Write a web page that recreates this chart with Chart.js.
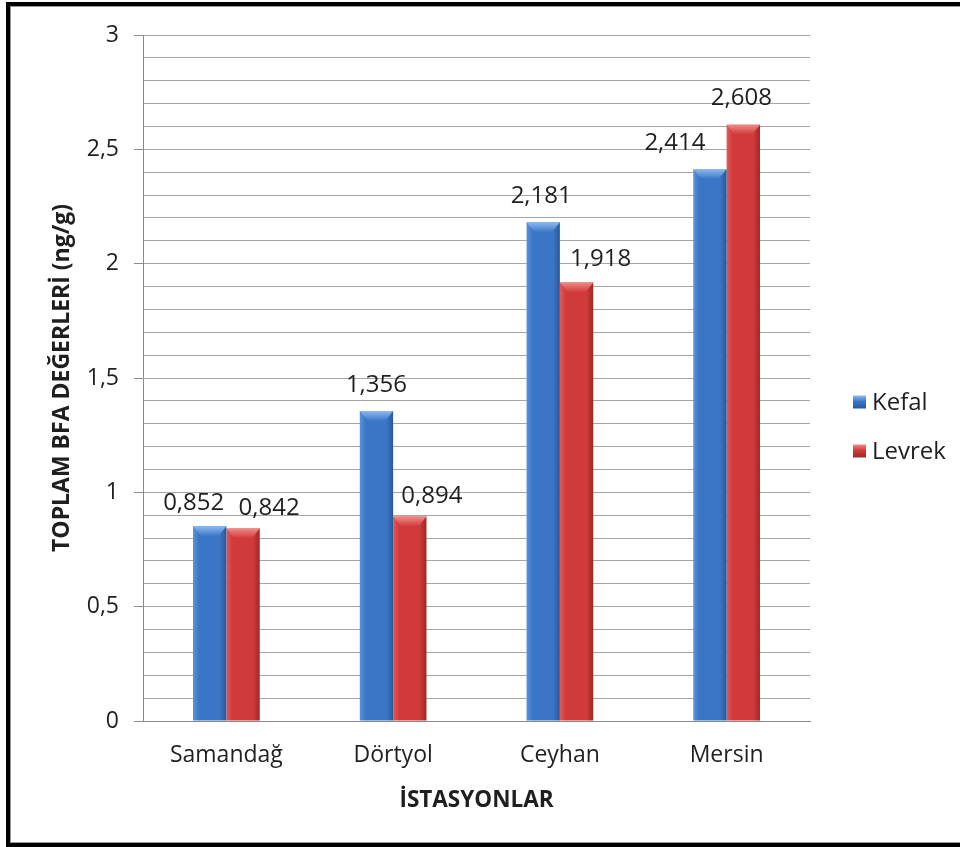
<!DOCTYPE html>
<html>
<head>
<meta charset="utf-8">
<title>Toplam BFA Değerleri</title>
<script src="https://cdn.jsdelivr.net/npm/chart.js@4.4.1/dist/chart.umd.min.js"></script>
<style>
  html, body { margin: 0; padding: 0; background: #fff; overflow: hidden; }
  #wrap { position: relative; width: 960px; height: 847px; }
  #chart { position: absolute; left: 0; top: 0; }
  #frame {
    position: absolute; left: 6px; top: 2px; width: 1000px; height: 837px;
    border: 4px solid #000; border-right: none; pointer-events: none;
  }
  #frame::after {
    content: ''; position: absolute; left: 0; top: 0; right: 0; bottom: 0;
    border: 1px solid #9a9a9a; border-right: none;
  }
</style>
</head>
<body>
<div id="wrap">
  <canvas id="chart" width="960" height="847"></canvas>
  <div id="frame"></div>
</div>
<script>
// Stations and total BFA values (ng/g) for the two fish species
const categories = ['Samandağ', 'Dörtyol', 'Ceyhan', 'Mersin'];
const seriesNames = ['Kefal', 'Levrek'];
const kefalValues = [0.852, 1.356, 2.181, 2.414];
const levrekValues = [0.842, 0.894, 1.918, 2.608];
const yMajorTicks = [0, 0.5, 1, 1.5, 2, 2.5, 3];
const yTitle = 'TOPLAM BFA DEĞERLERİ (ng/g)';
const xTitle = 'İSTASYONLAR';

// Nudges (px) for value labels that sit beside their bars
const labelNudge = [
  [[-16, 0], [0, -3], [-2, -3], [-35, -3]],
  [[26, 3], [22, 3], [24, 0], [-2, -3]]
];

const FONT = '"Open Sans", "Noto Sans", sans-serif';
const TEXT = '#1f1f1f';

// Shading for the bevelled bars: [left light, body, right dark, top bevel]
const shades = [
  ['#5a93dc', '#3b76c6', '#2a5898', '#8dbbf0'],
  ['#e25a59', '#d03a3a', '#9e2727', '#f08a88']
];

const fmt = v => String(+v.toFixed(3)).replace('.', ',');
const isMajor = v => Math.abs(v * 2 - Math.round(v * 2)) < 1e-6;

const bevelPlugin = {
  id: 'bevel',
  beforeDatasetsDraw(chart) {
    const ctx = chart.ctx;
    chart.data.datasets.forEach((ds, di) => {
      const s = shades[di];
      chart.getDatasetMeta(di).data.forEach(el => {
        const l = el.x - el.width / 2, r = el.x + el.width / 2;
        const g = ctx.createLinearGradient(l, 0, r, 0);
        g.addColorStop(0, s[0]);
        g.addColorStop(0.18, s[1]);
        g.addColorStop(0.8, s[1]);
        g.addColorStop(1, s[2]);
        el.options.backgroundColor = g;
      });
    });
  },
  afterDatasetsDraw(chart) {
    const ctx = chart.ctx;
    ctx.save();
    chart.data.datasets.forEach((ds, di) => {
      const s = shades[di];
      chart.getDatasetMeta(di).data.forEach(el => {
        const l = el.x - el.width / 2, r = el.x + el.width / 2, t = el.y;
        const h = 10;
        ctx.beginPath();
        ctx.moveTo(l, t);
        ctx.lineTo(r, t);
        ctx.lineTo(r - h * 0.8, t + h);
        ctx.lineTo(l + h * 0.8, t + h);
        ctx.closePath();
        const g = ctx.createLinearGradient(0, t, 0, t + h);
        g.addColorStop(0, s[3]);
        g.addColorStop(1, s[1]);
        ctx.fillStyle = g;
        ctx.fill();
      });
    });
    ctx.restore();
  }
};

const valueLabelPlugin = {
  id: 'valueLabels',
  afterDatasetsDraw(chart) {
    const ctx = chart.ctx;
    ctx.save();
    ctx.font = '24px ' + FONT;
    ctx.fillStyle = TEXT;
    ctx.textAlign = 'center';
    ctx.textBaseline = 'middle';
    chart.data.datasets.forEach((ds, di) => {
      chart.getDatasetMeta(di).data.forEach((el, i) => {
        const [dx, dy] = labelNudge[di][i];
        ctx.fillText(fmt(ds.data[i]), el.x + dx, el.y - 23 + dy);
      });
    });
    ctx.restore();
  }
};

const sideLegendPlugin = {
  id: 'sideLegend',
  afterDraw(chart) {
    const ctx = chart.ctx;
    ctx.save();
    ctx.font = '24px ' + FONT;
    ctx.textBaseline = 'middle';
    ctx.textAlign = 'left';
    seriesNames.forEach((name, i) => {
      const cy = 402 + i * 49;
      const s = shades[i];
      const bx = 853, by = cy - 6.5, bs = 13;
      const g = ctx.createLinearGradient(bx, by, bx, by + bs);
      g.addColorStop(0, s[3]);
      g.addColorStop(0.45, s[1]);
      g.addColorStop(1, s[2]);
      ctx.fillStyle = g;
      ctx.fillRect(bx, by, bs, bs);
      ctx.fillStyle = TEXT;
      ctx.fillText(name, 872, cy + 1);
    });
    ctx.restore();
  }
};

new Chart(document.getElementById('chart'), {
  type: 'bar',
  data: {
    labels: categories,
    datasets: [
      { label: seriesNames[0], data: kefalValues, backgroundColor: () => shades[0][1] },
      { label: seriesNames[1], data: levrekValues, backgroundColor: () => shades[1][1] }
    ]
  },
  options: {
    responsive: false,
    animation: false,
    devicePixelRatio: 1,
    layout: { padding: { left: 49, top: 35, right: 150, bottom: 10 } },
    datasets: { bar: { categoryPercentage: 0.4, barPercentage: 1.0, borderWidth: 0 } },
    plugins: { legend: { display: false }, tooltip: { enabled: false } },
    scales: {
      x: {
        grid: { display: true, drawOnChartArea: false, drawTicks: false },
        border: { display: true, color: '#8c8c8c', width: 1 },
        ticks: { color: TEXT, font: { family: FONT, size: 23 }, padding: 21 },
        title: {
          display: true, text: xTitle, color: TEXT,
          font: { family: FONT, size: 22.5, weight: 'bold' }, padding: { top: 0, bottom: 23 }
        },
        afterFit: s => { s.height = 116; }
      },
      y: {
        min: 0, max: 3,
        ticks: {
          stepSize: 0.1, autoSkip: false, color: TEXT, padding: 15,
          font: { family: FONT, size: 23 },
          callback: v => {
            const hit = yMajorTicks.find(m => Math.abs(m - v) < 1e-6);
            return hit === undefined ? '' : fmt(hit);
          }
        },
        grid: {
          color: '#a6a6a6', lineWidth: 1, tickLength: 9,
          tickColor: c => isMajor(c.tick.value) ? '#8c8c8c' : 'rgba(0,0,0,0)'
        },
        border: { display: true, color: '#8c8c8c', width: 1 },
        title: {
          display: true, text: yTitle, color: TEXT,
          font: { family: FONT, size: 23, weight: 'bold' }, padding: { top: 0, bottom: 0 }
        },
        afterFit: s => { s.width = 94; }
      }
    }
  },
  plugins: [bevelPlugin, valueLabelPlugin, sideLegendPlugin]
});
</script>
</body>
</html>
